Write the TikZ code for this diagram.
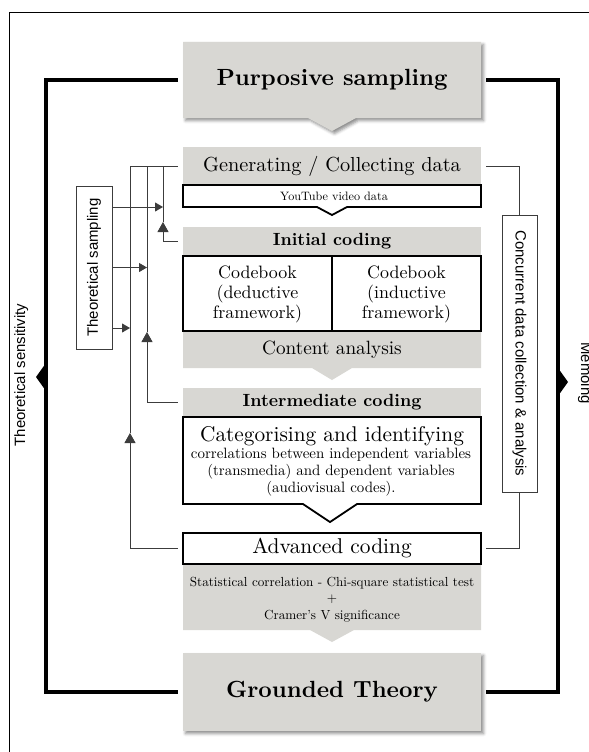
\documentclass[tikz,border=0pt]{standalone}
\usepackage{fontspec}
\setmainfont{lmroman10-regular.otf}[BoldFont=lmroman10-bold.otf]
\setsansfont{Liberation Sans}
\usepackage{graphicx}
\usetikzlibrary{arrows.meta,shadows.blur}
\pgfdeclarelayer{bg}
\pgfsetlayers{bg,main}
\definecolor{boxgray}{RGB}{216,215,211}
\definecolor{linegray}{RGB}{60,60,60}
\newcommand\fsz[2]{\fontsize{#1}{#2}\selectfont}
\begin{document}
\begin{tikzpicture}[x=1bp,y=-1bp,
  txt/.style={inner sep=0pt, minimum width=298bp, align=center},
  cell/.style={inner sep=0pt, minimum width=149bp, minimum height=75bp, align=center, font=\fsz{18}{20}},
  thickbox/.style={draw=black, line width=1.8bp},
  conn/.style={draw=linegray, line width=0.9bp},
  loopline/.style={draw=black, line width=3.4bp},
  tipR/.style={-{Triangle[length=8bp,width=9bp]}},
  tipU/.style={-{Triangle[length=10bp,width=11bp]}},
  sidebox/.style={draw=linegray, line width=0.9bp, inner sep=0pt, font=\sffamily\fsz{15}{18}},
  sidelabel/.style={font=\sffamily\fsz{15}{18}, inner sep=0pt, anchor=base},
]
\useasboundingbox (0,0) rectangle (589,752);

% text nodes
\node[txt, minimum height=76bp, font=\bfseries\fsz{23.5}{28}] (purp) at (332,80) {Purposive sampling};
\node[txt, minimum height=38bp, font=\fsz{20.4}{24}] (gen) at (332,166) {Generating / Collecting data};
\node[txt, minimum height=22bp, font=\fsz{12.2}{14}] (yt) at (334,196) {YouTube video data};
\node[txt, minimum height=29bp, font=\bfseries\fsz{17.7}{22}] (init) at (332,241.5) {Initial coding};
\node[cell] (cbl) at (257.5,294) {Codebook\\(deductive\\framework)};
\node[cell] (cbr) at (406.5,294) {Codebook\\(inductive\\framework)};
\node[txt, minimum height=37bp, font=\fsz{19.3}{23}] (cont) at (332,349.5) {Content analysis};
\node[txt, minimum height=29bp, font=\bfseries\fsz{17.7}{22}] (inter) at (332,402.5) {Intermediate coding};
\node[font=\fsz{21.4}{24}, inner sep=0pt, anchor=base] (cat) at (332,441) {Categorising and identifying};
\node[font=\fsz{15}{17}, align=center, inner sep=0pt] (catb) at (331,472.5) {correlations between independent variables\\(transmedia) and dependent variables\\(audiovisual codes).};
\node[txt, minimum height=31bp, font=\fsz{21.5}{24}] (adv) at (332,548.5) {Advanced coding};
\node[txt, font=\fsz{13.2}{16.5}] (stat) at (332,599.5) {Statistical correlation - Chi-square statistical test\\+\\Cramer's V significance};
\node[txt, minimum height=78bp, font=\bfseries\fsz{23.5}{28}] (grd) at (332,692) {Grounded Theory};

\node[sidebox, minimum width=36bp, minimum height=163bp] (ts) at (94,267.5) {\rotatebox{90}{Theoretical sampling}};
\node[sidebox, minimum width=35bp, minimum height=277bp] (conc) at (519.5,353.5) {\rotatebox{-90}{Concurrent data collection \& analysis}};
\node[sidelabel, rotate=90] (tsens) at (25,375) {Theoretical sensitivity};
\node[sidelabel, rotate=-90] (memo) at (581,373) {Memoing};

% shapes
\begin{pgfonlayer}{bg}
\path[fill=boxgray, blur shadow={shadow xshift=2.5bp, shadow yshift=-2.5bp, shadow blur radius=3bp, shadow opacity=45}]
  (183,42) -- (481,42) -- (481,118) -- (356,118) -- (332,131) -- (308,118) -- (183,118) -- cycle;
\path[fill=boxgray] (183,147) rectangle (481,185);
\path[fill=boxgray] (183,227) rectangle (481,256);
\path[fill=boxgray] (183,331) -- (481,331) -- (481,368) -- (352,368) -- (332,380) -- (312,368) -- (183,368) -- cycle;
\path[fill=boxgray] (183,388) rectangle (481,417);
\path[fill=boxgray] (183,564) -- (481,564) -- (481,630) -- (354,630) -- (332,642) -- (310,630) -- (183,630) -- cycle;
\path[fill=boxgray, blur shadow={shadow xshift=2.5bp, shadow yshift=-2.5bp, shadow blur radius=3bp, shadow opacity=45}]
  (183,653) rectangle (481,731);
\draw[thickbox, fill=white] (183,185) -- (481,185) -- (481,207) -- (347,207) -- (332,215) -- (317,207) -- (183,207) -- cycle;
\draw[thickbox, fill=white] (183,256) rectangle (481,331);
\draw[thickbox] (332,256) -- (332,331);
\draw[thickbox, fill=white] (183,417) -- (481,417) -- (481,504) -- (357,504) -- (330,522) -- (303,504) -- (183,504) -- cycle;
\draw[thickbox, fill=white] (183,533) rectangle (481,564);
\end{pgfonlayer}

% outer frame
\draw[line width=0.9bp] (9,752) -- (9,12) -- (589,12);

% thick loop
\coordinate (lft) at (46,0);
\coordinate (rgt) at (558,0);
\draw[loopline] ([xshift=-5bp]purp.west) -- (purp.west -| lft) -- (grd.west -| lft) -- ([xshift=-5bp]grd.west);
\draw[loopline] ([xshift=5bp]purp.east) -- (purp.east -| rgt) -- (grd.east -| rgt) -- ([xshift=5bp]grd.east);
\fill (46,363) -- (36,377) -- (46,391) -- cycle;
\fill (558,368) -- (568,382) -- (558,396) -- cycle;

% left feedback connectors
\coordinate (v1) at (163,166);
\coordinate (v2) at (147,166);
\coordinate (v3) at (130,166);
\coordinate (a1) at (163,222);
\coordinate (a2) at (147,332);
\coordinate (a3) at (130,433);
\draw[conn] (v3) -- ([xshift=-5bp]gen.west);
\draw[conn,tipU] ([xshift=-5bp]init.west) -| (a1);
\draw[conn] (a1) -- (v1);
\draw[conn,tipU] ([xshift=-5bp]inter.west) -| (a2);
\draw[conn] (a2) -- (v2);
\draw[conn,tipU] ([xshift=-5bp]adv.west) -| (a3);
\draw[conn] (a3) -- (v3);

% theoretical sampling arrows
\coordinate (t1) at ([yshift=60.5bp]ts.east);
\coordinate (t2) at (ts.east);
\coordinate (t3) at ([yshift=-60.5bp]ts.east);
\draw[conn,tipR] (t1) -- (t1 -| v1);
\draw[conn,tipR] (t2) -- (t2 -| v2);
\draw[conn,tipR] (t3) -- (t3 -| v3);

% concurrent connectors
\draw[conn] ([xshift=5bp]gen.east) -| (conc.north);
\draw[conn] (conc.south) |- ([xshift=5bp]adv.east);
\end{tikzpicture}
\end{document}
